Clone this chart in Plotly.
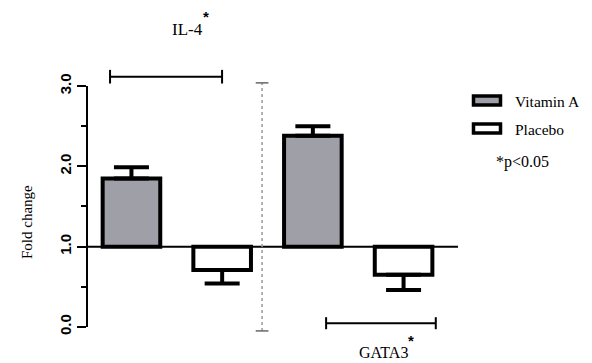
import plotly.graph_objects as go

# ---------------- data ----------------
genes = ["IL-4", "GATA3"]
groups = ["Vitamin A", "Placebo"]
vitA_mean = [1.85, 2.38]
vitA_err = [0.14, 0.12]
placebo_mean = [0.71, 0.65]
placebo_err = [0.17, 0.19]
y_tick_vals = [0.0, 1.0, 2.0, 3.0]
y_tick_text = ["0.0", "1.0", "2.0", "3.0"]
baseline = 1.0
p_note = "*p<0.05"

# ---------------- layout constants ----------------
W, H = 592, 363
ML, MR, MT, MB = 87, 134, 62, 8
XR = [-0.49, 3.6]
YR = [-0.35, 3.3]
PW, PH = W - ML - MR, H - MT - MB

def px(x):
    return (x - ML) / PW

def py(y):
    return (H - MB - y) / PH

SERIF = "Liberation Serif, Times New Roman, serif"
SANS = "Liberation Sans, Arial, sans-serif"
GRAY = "#9f9fa7"

# bar positions: two bars per gene
x_vit = [2 * i for i in range(len(genes))]
x_pla = [2 * i + 1 for i in range(len(genes))]
BAR_W = 0.635

fig = go.Figure()
fig.add_trace(go.Bar(
    x=x_vit, y=[v - baseline for v in vitA_mean], base=baseline, width=BAR_W,
    name=groups[0], marker=dict(color=GRAY, line=dict(color="black", width=4)),
    showlegend=False))
fig.add_trace(go.Bar(
    x=x_pla, y=[v - baseline for v in placebo_mean], base=baseline, width=BAR_W,
    name=groups[1], marker=dict(color="white", line=dict(color="black", width=4)),
    showlegend=False))
fig.add_trace(go.Scatter(
    x=x_vit, y=vitA_mean, mode="markers", marker=dict(size=1, opacity=0),
    error_y=dict(type="data", symmetric=False, array=vitA_err,
                 arrayminus=[0] * len(vitA_err), thickness=4, width=17.5, color="black"),
    showlegend=False, hoverinfo="skip"))
fig.add_trace(go.Scatter(
    x=x_pla, y=placebo_mean, mode="markers", marker=dict(size=1, opacity=0),
    error_y=dict(type="data", symmetric=False, array=[0] * len(placebo_err),
                 arrayminus=placebo_err, thickness=4, width=17.5, color="black"),
    showlegend=False, hoverinfo="skip"))

shapes = []
# y axis line from 0 to 3
shapes.append(dict(type="line", xref="paper", yref="y", x0=0, x1=0,
                   y0=y_tick_vals[0], y1=y_tick_vals[-1],
                   line=dict(color="black", width=2), layer="above"))
# baseline at 1.0
shapes.append(dict(type="line", xref="paper", yref="y", x0=0, x1=1,
                   y0=baseline, y1=baseline, line=dict(color="black", width=2), layer="below"))
# dotted divider between genes
DIV_X = 1.44
shapes.append(dict(type="line", xref="x", yref="y", x0=DIV_X, x1=DIV_X, y0=-0.05, y1=3.04,
                   line=dict(color="#9a9a9a", width=1.5, dash="dot")))
for yy in (-0.05, 3.04):
    shapes.append(dict(type="line", xref="x", yref="y", x0=DIV_X - 0.07, x1=DIV_X + 0.07,
                       y0=yy, y1=yy, line=dict(color="#666", width=1.5)))
# significance brackets
def bracket(x0, x1, y, h):
    out = [dict(type="line", xref="x", yref="y", x0=x0, x1=x1, y0=y, y1=y,
                line=dict(color="black", width=2))]
    for xx in (x0, x1):
        out.append(dict(type="line", xref="x", yref="y", x0=xx, x1=xx, y0=y - h, y1=y + h,
                        line=dict(color="black", width=2)))
    return out
shapes += bracket(-0.236, 0.999, 3.117, 0.085)
shapes += bracket(2.146, 3.355, 0.046, 0.075)
# legend boxes
for (y0, y1), col in zip([(96, 105), (124, 133)], [GRAY, "white"]):
    shapes.append(dict(type="rect", xref="paper", yref="paper",
                       x0=px(473.5), x1=px(500.5), y0=py(y1), y1=py(y0),
                       fillcolor=col, line=dict(color="black", width=3.5)))

def note(text, x, y, size, family=SERIF, xanchor="center", angle=0, weight="normal"):
    return dict(text=text, xref="paper", yref="paper", x=px(x), y=py(y),
                xanchor=xanchor, yanchor="middle", showarrow=False, textangle=angle,
                font=dict(family=family, size=size, color="black", weight=weight))

annotations = [
    note("Fold change", 27, 222, 15, angle=-90),
    note(genes[0], 187, 29, 17),
    note("*", 205.5, 17, 15, family=SANS, weight="bold"),
    note(genes[1], 383, 352, 16),
    note("*", 411, 340, 15, family=SANS, weight="bold"),
    note(groups[0], 513, 101, 15.5, xanchor="left"),
    note(groups[1], 513, 129, 15.5, xanchor="left"),
    note(p_note, 494, 162, 16, xanchor="left"),
]

fig.update_layout(
    width=W, height=H, margin=dict(l=ML, r=MR, t=MT, b=MB, pad=0),
    paper_bgcolor="white", plot_bgcolor="white",
    barmode="overlay", showlegend=False,
    xaxis=dict(range=XR, visible=False, showgrid=False, zeroline=False),
    yaxis=dict(range=YR, showgrid=False, zeroline=False, showline=False,
               tickmode="array", tickvals=y_tick_vals, ticktext=y_tick_text,
               ticks="outside", ticklen=9, tickwidth=2, tickcolor="black",
               tickangle=-90,
               tickfont=dict(family=SANS, size=15, color="black", weight="bold"),
               minor=dict(tickmode="linear", tick0=0, dtick=0.5, ticks="outside",
                          ticklen=5, tickwidth=2, tickcolor="black")),
    shapes=shapes, annotations=annotations,
)

fig.write_html("out.html")
